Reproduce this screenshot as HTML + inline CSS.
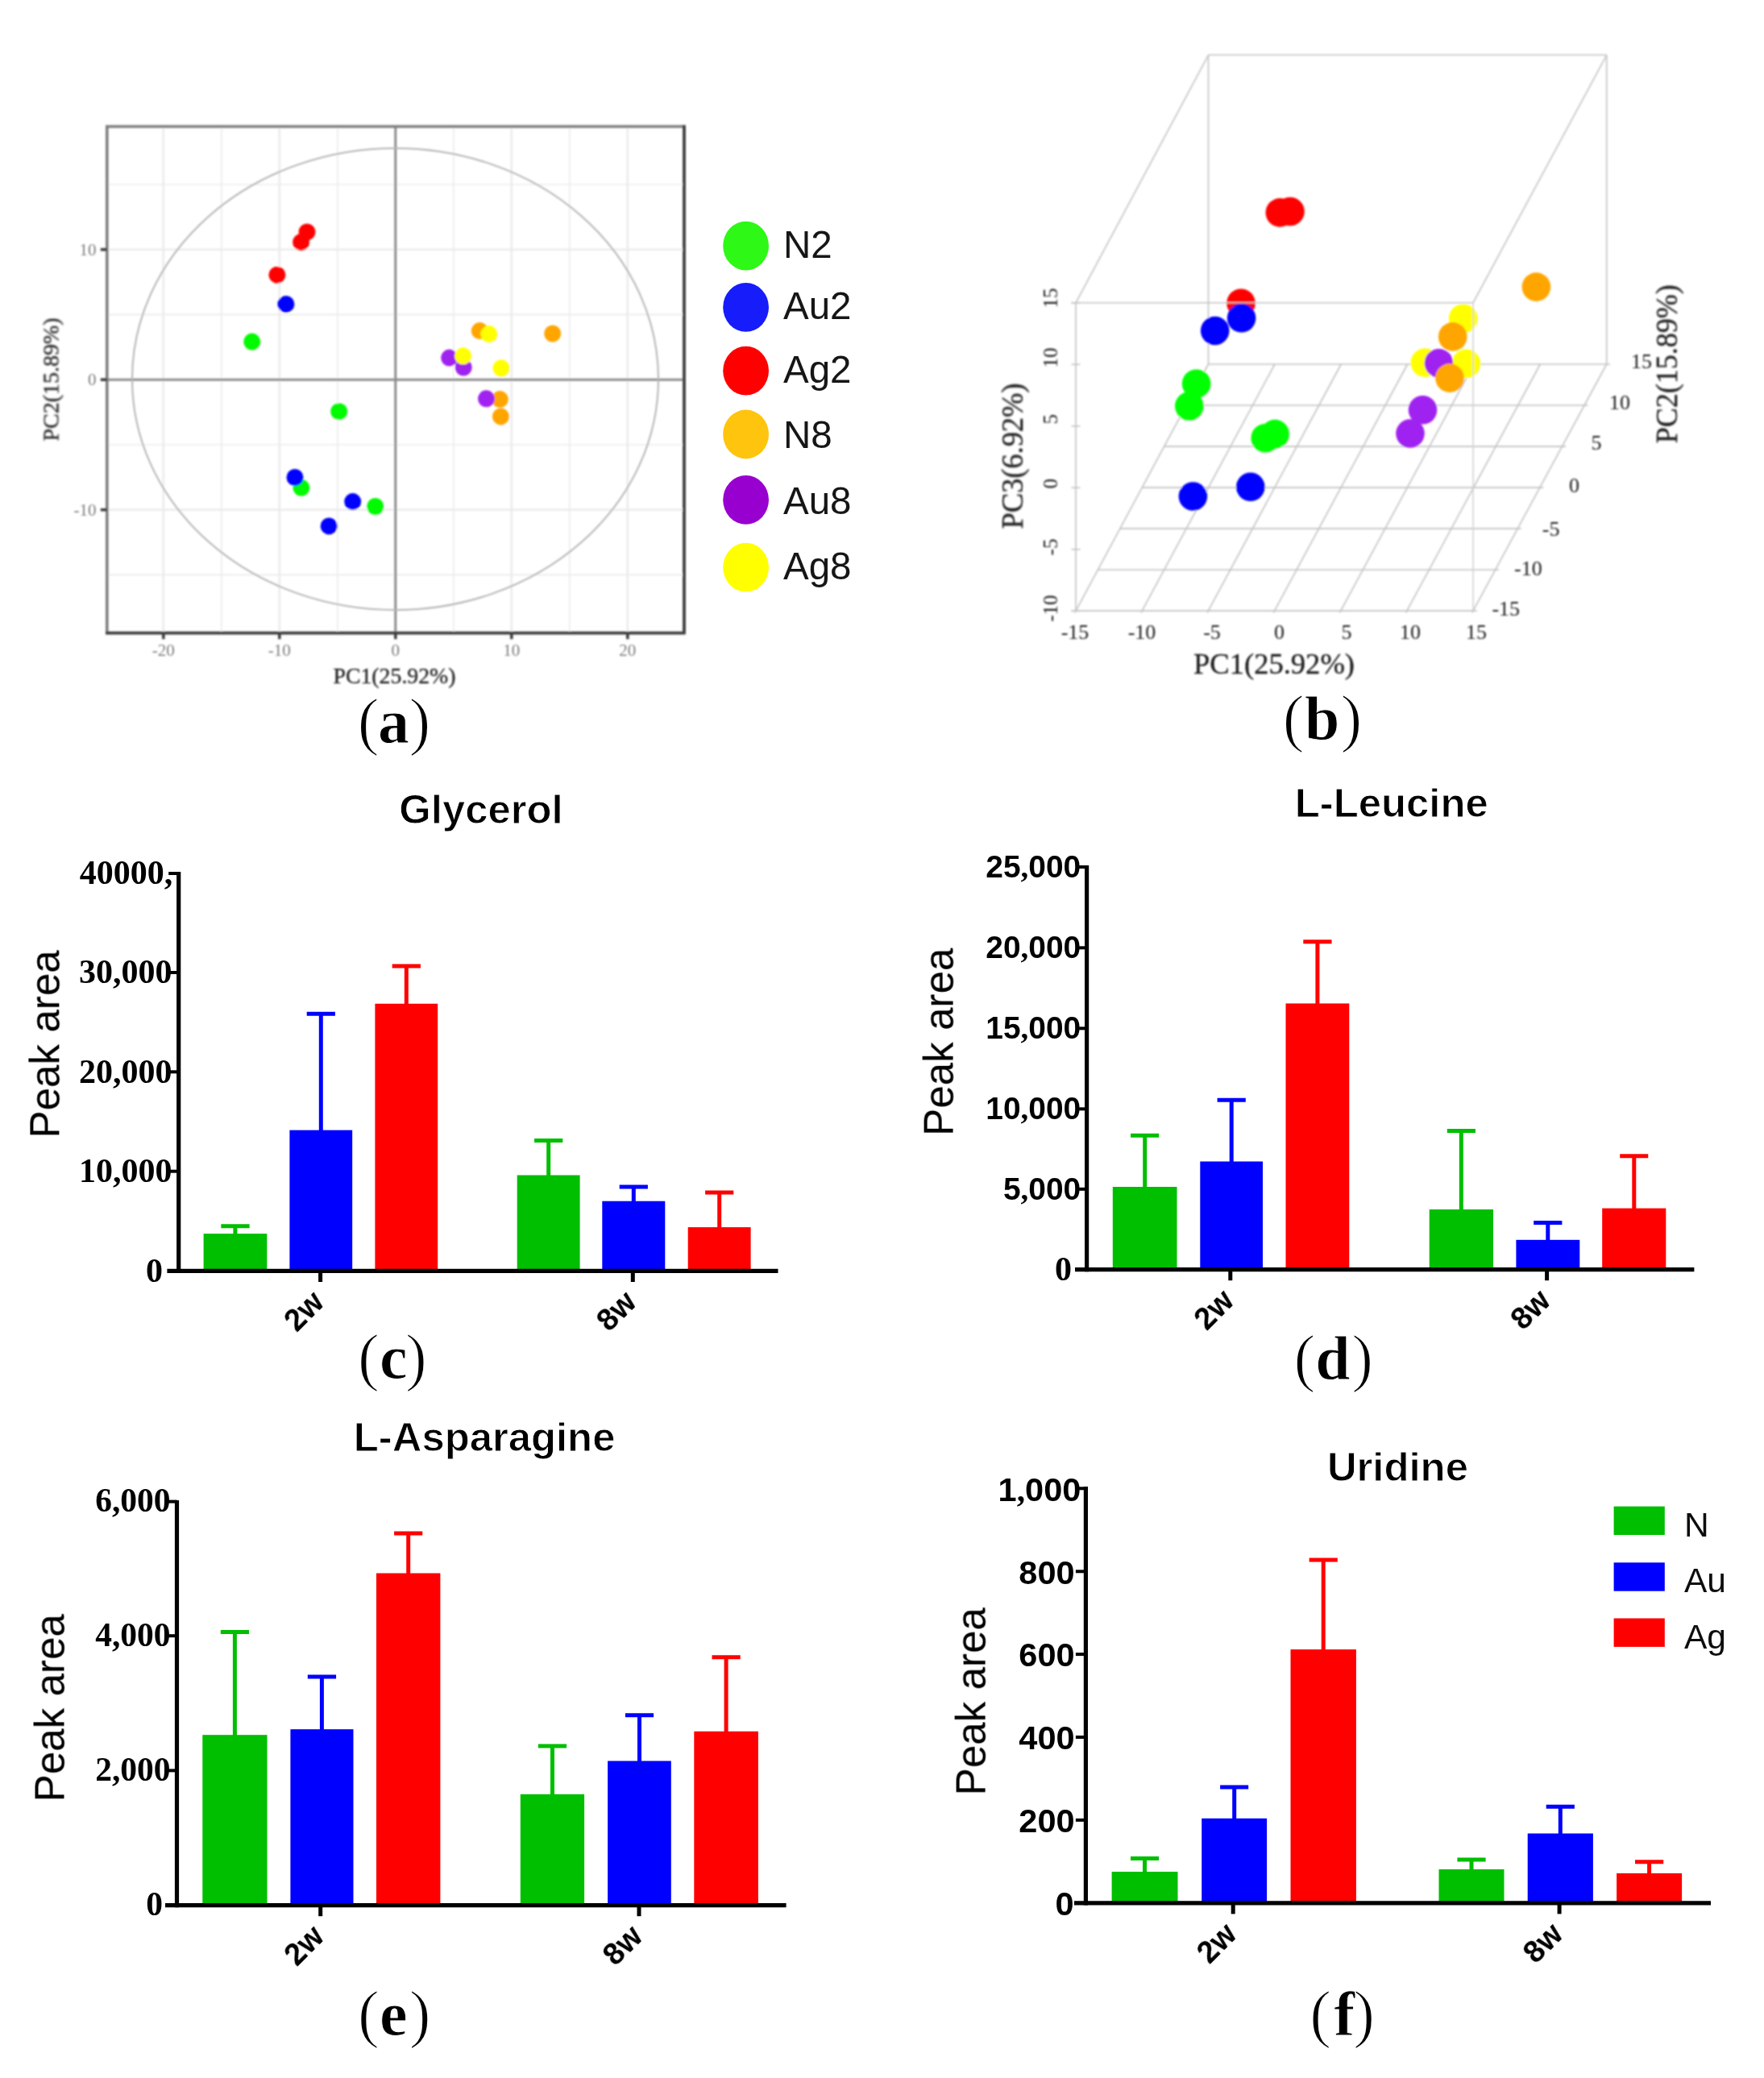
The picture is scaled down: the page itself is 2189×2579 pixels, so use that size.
<!DOCTYPE html>
<html><head><meta charset="utf-8"><title>Figure</title>
<style>
html,body{margin:0;padding:0;background:#fff}
svg{display:block}
.se{font-family:"Liberation Serif", serif}
.sa{font-family:"Liberation Sans", sans-serif}
</style></head><body>
<svg width="2189" height="2579" viewBox="0 0 2189 2579">
<defs>
<filter id="b1" x="-5%" y="-5%" width="110%" height="110%"><feGaussianBlur stdDeviation="0.9"/></filter>
<filter id="b2" x="-5%" y="-5%" width="110%" height="110%"><feGaussianBlur stdDeviation="0.5"/></filter>
</defs>
<rect width="2189" height="2579" fill="#fff"/>

<g id="pa" filter="url(#b1)">
<line x1="202.8" y1="157" x2="202.8" y2="785.7" stroke="#ebebeb" stroke-width="2.6"/>
<line x1="274.8" y1="157" x2="274.8" y2="785.7" stroke="#ebebeb" stroke-width="1.6"/>
<line x1="346.8" y1="157" x2="346.8" y2="785.7" stroke="#ebebeb" stroke-width="2.6"/>
<line x1="418.8" y1="157" x2="418.8" y2="785.7" stroke="#ebebeb" stroke-width="1.6"/>
<line x1="562.8" y1="157" x2="562.8" y2="785.7" stroke="#ebebeb" stroke-width="1.6"/>
<line x1="634.8" y1="157" x2="634.8" y2="785.7" stroke="#ebebeb" stroke-width="2.6"/>
<line x1="706.8" y1="157" x2="706.8" y2="785.7" stroke="#ebebeb" stroke-width="1.6"/>
<line x1="778.8" y1="157" x2="778.8" y2="785.7" stroke="#ebebeb" stroke-width="2.6"/>
<line x1="132.8" y1="713.4" x2="849" y2="713.4" stroke="#ebebeb" stroke-width="1.6"/>
<line x1="132.8" y1="632.7" x2="849" y2="632.7" stroke="#ebebeb" stroke-width="2.6"/>
<line x1="132.8" y1="552.0" x2="849" y2="552.0" stroke="#ebebeb" stroke-width="1.6"/>
<line x1="132.8" y1="390.4" x2="849" y2="390.4" stroke="#ebebeb" stroke-width="1.6"/>
<line x1="132.8" y1="309.7" x2="849" y2="309.7" stroke="#ebebeb" stroke-width="2.6"/>
<line x1="132.8" y1="229.0" x2="849" y2="229.0" stroke="#ebebeb" stroke-width="1.6"/>
<line x1="490.8" y1="157" x2="490.8" y2="785.7" stroke="#8c8c8c" stroke-width="3"/>
<line x1="132.8" y1="471.2" x2="849" y2="471.2" stroke="#8c8c8c" stroke-width="3"/>
<ellipse cx="490.5" cy="470.5" rx="326.5" ry="286.5" fill="none" stroke="#b4b4b4" stroke-width="2"/>
<path d="M132.8 785.7 V157 H849" fill="none" stroke="#7e7e7e" stroke-width="3.6"/>
<path d="M131.0 785.7 H850.8 M849 785.7 V155.2" fill="none" stroke="#3c3c3c" stroke-width="3.8"/>
<line x1="202.8" y1="785.7" x2="202.8" y2="793.2" stroke="#3c3c3c" stroke-width="3.6"/>
<text class="se" x="202.8" y="814" font-size="21" fill="#7a7a7a" text-anchor="middle">-20</text>
<line x1="346.8" y1="785.7" x2="346.8" y2="793.2" stroke="#3c3c3c" stroke-width="3.6"/>
<text class="se" x="346.8" y="814" font-size="21" fill="#7a7a7a" text-anchor="middle">-10</text>
<line x1="490.8" y1="785.7" x2="490.8" y2="793.2" stroke="#3c3c3c" stroke-width="3.6"/>
<text class="se" x="490.8" y="814" font-size="21" fill="#7a7a7a" text-anchor="middle">0</text>
<line x1="634.8" y1="785.7" x2="634.8" y2="793.2" stroke="#3c3c3c" stroke-width="3.6"/>
<text class="se" x="634.8" y="814" font-size="21" fill="#7a7a7a" text-anchor="middle">10</text>
<line x1="778.8" y1="785.7" x2="778.8" y2="793.2" stroke="#3c3c3c" stroke-width="3.6"/>
<text class="se" x="778.8" y="814" font-size="21" fill="#7a7a7a" text-anchor="middle">20</text>
<line x1="124.80000000000001" y1="632.7" x2="132.8" y2="632.7" stroke="#3c3c3c" stroke-width="3.6"/>
<text class="se" x="119.5" y="639.7" font-size="21" fill="#7a7a7a" text-anchor="end">-10</text>
<line x1="124.80000000000001" y1="471.2" x2="132.8" y2="471.2" stroke="#3c3c3c" stroke-width="3.6"/>
<text class="se" x="119.5" y="478.2" font-size="21" fill="#7a7a7a" text-anchor="end">0</text>
<line x1="124.80000000000001" y1="309.7" x2="132.8" y2="309.7" stroke="#3c3c3c" stroke-width="3.6"/>
<text class="se" x="119.5" y="316.7" font-size="21" fill="#7a7a7a" text-anchor="end">10</text>
<text class="se" x="413.5" y="848" font-size="28" fill="#262626" stroke="#262626" stroke-width="0.35" textLength="152" lengthAdjust="spacingAndGlyphs">PC1(25.92%)</text>
<text class="se" transform="translate(72.5 547.5) rotate(-90)" font-size="28" fill="#262626" stroke="#262626" stroke-width="0.35" textLength="153" lengthAdjust="spacingAndGlyphs">PC2(15.89%)</text>
<circle cx="312.7" cy="424.1" r="10.5" fill="#00fa00"/>
<circle cx="420.7" cy="510.7" r="10.5" fill="#00fa00"/>
<circle cx="373.9" cy="605.3" r="10.5" fill="#00fa00"/>
<circle cx="465.7" cy="628.5" r="10.5" fill="#00fa00"/>
<circle cx="354.9" cy="377.4" r="10.5" fill="#0000ff"/>
<circle cx="366" cy="592.5" r="10.5" fill="#0000ff"/>
<circle cx="437.7" cy="622.6" r="10.5" fill="#0000ff"/>
<circle cx="408.2" cy="652.9" r="10.5" fill="#0000ff"/>
<circle cx="381" cy="287.9" r="10.5" fill="#ff0000"/>
<circle cx="373.6" cy="300.6" r="10.5" fill="#ff0000"/>
<circle cx="343.9" cy="341.2" r="10.5" fill="#ff0000"/>
<circle cx="595.3" cy="410.6" r="10.5" fill="#ffa500"/>
<circle cx="685.7" cy="414" r="10.5" fill="#ffa500"/>
<circle cx="620.3" cy="495.6" r="10.5" fill="#ffa500"/>
<circle cx="621.4" cy="516.9" r="10.5" fill="#ffa500"/>
<circle cx="557.6" cy="444.1" r="10.5" fill="#a020f0"/>
<circle cx="575.2" cy="456" r="10.5" fill="#a020f0"/>
<circle cx="603.5" cy="494.8" r="10.5" fill="#a020f0"/>
<circle cx="606.7" cy="414.6" r="10.5" fill="#ffff00"/>
<circle cx="574.6" cy="441.8" r="10.5" fill="#ffff00"/>
<circle cx="622" cy="456.8" r="10.5" fill="#ffff00"/>
</g>
<g id="lega" filter="url(#b2)">
<ellipse cx="925.6" cy="305.1" rx="28.4" ry="30.4" fill="#2ef814"/>
<text class="sa" x="972" y="320.3" font-size="47.5" fill="#161616">N2</text>
<ellipse cx="925.6" cy="381.4" rx="28.4" ry="30.4" fill="#141efa"/>
<text class="sa" x="972" y="396.2" font-size="47.5" fill="#161616">Au2</text>
<ellipse cx="925.6" cy="460.2" rx="28.4" ry="30.4" fill="#ff0000"/>
<text class="sa" x="972" y="474.7" font-size="47.5" fill="#161616">Ag2</text>
<ellipse cx="925.6" cy="539" rx="28.4" ry="30.4" fill="#ffc40a"/>
<text class="sa" x="972" y="556" font-size="47.5" fill="#161616">N8</text>
<ellipse cx="925.6" cy="620.4" rx="28.4" ry="30.4" fill="#9800d0"/>
<text class="sa" x="972" y="637.8" font-size="47.5" fill="#161616">Au8</text>
<ellipse cx="925.6" cy="704.2" rx="28.4" ry="30.4" fill="#ffff00"/>
<text class="sa" x="972" y="719.2" font-size="47.5" fill="#161616">Ag8</text>
</g>
<g id="pb" filter="url(#b1)">
<line x1="1335.0" y1="758.2" x2="1832.5" y2="758.2" stroke="#c2c2c2" stroke-width="1.6"/>
<line x1="1333.8" y1="760.4" x2="1499.5" y2="452.0" stroke="#c2c2c2" stroke-width="1.6"/>
<line x1="1362.4" y1="707.2" x2="1860.1" y2="707.2" stroke="#c2c2c2" stroke-width="1.6"/>
<line x1="1416.0" y1="760.4" x2="1581.9" y2="452.0" stroke="#c2c2c2" stroke-width="1.6"/>
<line x1="1389.8" y1="656.1" x2="1887.7" y2="656.1" stroke="#c2c2c2" stroke-width="1.6"/>
<line x1="1498.1" y1="760.4" x2="1664.2" y2="452.0" stroke="#c2c2c2" stroke-width="1.6"/>
<line x1="1417.2" y1="605.1" x2="1915.3" y2="605.1" stroke="#c2c2c2" stroke-width="1.6"/>
<line x1="1580.3" y1="760.4" x2="1746.6" y2="452.0" stroke="#c2c2c2" stroke-width="1.6"/>
<line x1="1444.7" y1="554.1" x2="1943.0" y2="554.1" stroke="#c2c2c2" stroke-width="1.6"/>
<line x1="1662.5" y1="760.4" x2="1829.0" y2="452.0" stroke="#c2c2c2" stroke-width="1.6"/>
<line x1="1472.1" y1="503.0" x2="1970.6" y2="503.0" stroke="#c2c2c2" stroke-width="1.6"/>
<line x1="1744.6" y1="760.4" x2="1911.3" y2="452.0" stroke="#c2c2c2" stroke-width="1.6"/>
<line x1="1499.5" y1="452.0" x2="1998.2" y2="452.0" stroke="#c2c2c2" stroke-width="1.6"/>
<line x1="1826.8" y1="760.4" x2="1993.7" y2="452.0" stroke="#c2c2c2" stroke-width="1.6"/>
<line x1="1499.5" y1="452.0" x2="1499.5" y2="68.3" stroke="#c2c2c2" stroke-width="1.6"/>
<line x1="1993.7" y1="452.0" x2="1993.7" y2="68.3" stroke="#c2c2c2" stroke-width="1.6"/>
<line x1="1499.5" y1="68.3" x2="1993.7" y2="68.3" stroke="#c2c2c2" stroke-width="1.6"/>
<line x1="1335.0" y1="375.8" x2="1499.5" y2="68.3" stroke="#c2c2c2" stroke-width="1.6"/>
<line x1="1828.0" y1="375.8" x2="1993.7" y2="68.3" stroke="#c2c2c2" stroke-width="1.6"/>
<circle cx="1588.3" cy="263.9" r="17.8" fill="#ff0000"/>
<circle cx="1601" cy="262.5" r="17.8" fill="#ff0000"/>
<circle cx="1540" cy="376.2" r="17.8" fill="#ff0000"/>
<circle cx="1906.4" cy="356.1" r="17.8" fill="#ffa500"/>
<circle cx="1815.7" cy="395.2" r="17.8" fill="#ffff00"/>
<circle cx="1540.6" cy="394.8" r="17.8" fill="#0000ff"/>
<circle cx="1507.7" cy="410.5" r="17.8" fill="#0000ff"/>
<circle cx="1802.7" cy="417.9" r="17.8" fill="#ffa500"/>
<circle cx="1768.4" cy="450.1" r="17.8" fill="#ffff00"/>
<circle cx="1819.4" cy="451.3" r="17.8" fill="#ffff00"/>
<circle cx="1785.4" cy="450.7" r="17.8" fill="#a020f0"/>
<circle cx="1799" cy="469.1" r="17.8" fill="#ffa500"/>
<circle cx="1475.8" cy="504" r="17.8" fill="#00ff00"/>
<circle cx="1484.6" cy="476.2" r="17.8" fill="#00ff00"/>
<circle cx="1750" cy="538" r="17.8" fill="#a020f0"/>
<circle cx="1765.5" cy="508.8" r="17.8" fill="#a020f0"/>
<circle cx="1570.2" cy="543.7" r="17.8" fill="#00ff00"/>
<circle cx="1582.1" cy="538.6" r="17.8" fill="#00ff00"/>
<circle cx="1551.8" cy="604.3" r="17.8" fill="#0000ff"/>
<circle cx="1480.4" cy="616" r="17.8" fill="#0000ff"/>
<line x1="1329.0" y1="375.8" x2="1828.0" y2="375.8" stroke="#c2c2c2" stroke-width="1.6"/>
<line x1="1335.0" y1="758.2" x2="1335.0" y2="375.8" stroke="#c2c2c2" stroke-width="1.6"/>
<line x1="1828.0" y1="758.2" x2="1828.0" y2="375.8" stroke="#d2d2d2" stroke-width="1.6"/>
<line x1="1329.0" y1="758.2" x2="1832.5" y2="758.2" stroke="#c2c2c2" stroke-width="1.6"/>
<line x1="1329.5" y1="375.8" x2="1340.5" y2="375.8" stroke="#c2c2c2" stroke-width="1.6"/>
<line x1="1329.5" y1="452.3" x2="1340.5" y2="452.3" stroke="#c2c2c2" stroke-width="1.6"/>
<line x1="1329.5" y1="528.8" x2="1340.5" y2="528.8" stroke="#c2c2c2" stroke-width="1.6"/>
<line x1="1329.5" y1="605.3" x2="1340.5" y2="605.3" stroke="#c2c2c2" stroke-width="1.6"/>
<line x1="1329.5" y1="681.8" x2="1340.5" y2="681.8" stroke="#c2c2c2" stroke-width="1.6"/>
<line x1="1329.5" y1="758.3" x2="1340.5" y2="758.3" stroke="#c2c2c2" stroke-width="1.6"/>
<text class="se" x="1334" y="793" font-size="26" fill="#1c1c1c" text-anchor="middle">-15</text>
<text class="se" x="1417" y="793" font-size="26" fill="#1c1c1c" text-anchor="middle">-10</text>
<text class="se" x="1504" y="793" font-size="26" fill="#1c1c1c" text-anchor="middle">-5</text>
<text class="se" x="1587.5" y="793" font-size="26" fill="#1c1c1c" text-anchor="middle">0</text>
<text class="se" x="1671" y="793" font-size="26" fill="#1c1c1c" text-anchor="middle">5</text>
<text class="se" x="1750" y="793" font-size="26" fill="#1c1c1c" text-anchor="middle">10</text>
<text class="se" x="1832" y="793" font-size="26" fill="#1c1c1c" text-anchor="middle">15</text>
<text class="se" x="2037" y="456.7" font-size="26" fill="#1c1c1c" text-anchor="middle">15</text>
<text class="se" x="2009.9" y="508.1" font-size="26" fill="#1c1c1c" text-anchor="middle">10</text>
<text class="se" x="1981" y="557.9" font-size="26" fill="#1c1c1c" text-anchor="middle">5</text>
<text class="se" x="1953.5" y="611.0" font-size="26" fill="#1c1c1c" text-anchor="middle">0</text>
<text class="se" x="1924.6" y="665.3" font-size="26" fill="#1c1c1c" text-anchor="middle">-5</text>
<text class="se" x="1896.4" y="714.0" font-size="26" fill="#1c1c1c" text-anchor="middle">-10</text>
<text class="se" x="1868.8" y="763.8" font-size="26" fill="#1c1c1c" text-anchor="middle">-15</text>
<text class="se" transform="translate(1311.5 370) rotate(-90)" font-size="25" fill="#1c1c1c" text-anchor="middle">15</text>
<text class="se" transform="translate(1311.5 444) rotate(-90)" font-size="25" fill="#1c1c1c" text-anchor="middle">10</text>
<text class="se" transform="translate(1311.5 520.3) rotate(-90)" font-size="25" fill="#1c1c1c" text-anchor="middle">5</text>
<text class="se" transform="translate(1311.5 600.3) rotate(-90)" font-size="25" fill="#1c1c1c" text-anchor="middle">0</text>
<text class="se" transform="translate(1311.5 679) rotate(-90)" font-size="25" fill="#1c1c1c" text-anchor="middle">-5</text>
<text class="se" transform="translate(1311.5 755.2) rotate(-90)" font-size="25" fill="#1c1c1c" text-anchor="middle">-10</text>
<text class="se" x="1481" y="836" font-size="36" fill="#1e1e1e" stroke="#1e1e1e" stroke-width="0.3" textLength="200" lengthAdjust="spacingAndGlyphs">PC1(25.92%)</text>
<text class="se" transform="translate(1269 656.4) rotate(-90)" font-size="37" fill="#1e1e1e" stroke="#1e1e1e" stroke-width="0.3" textLength="181" lengthAdjust="spacingAndGlyphs">PC3(6.92%)</text>
<text class="se" transform="translate(2081 550.2) rotate(-90)" font-size="37" fill="#1e1e1e" stroke="#1e1e1e" stroke-width="0.3" textLength="197" lengthAdjust="spacingAndGlyphs">PC2(15.89%)</text>
</g>
<g id="labels" filter="url(#b2)" fill="#000">
<text class="se" x="443.8" y="922.2" font-size="80.5" stroke="#fff" stroke-width="1.5">(</text>
<text class="se" x="469.0" y="922.2" font-size="78" font-weight="bold" stroke="#fff" stroke-width="0.9">a</text>
<text class="se" x="507.6" y="922.2" font-size="80.5" stroke="#fff" stroke-width="1.5">)</text>
<text class="se" x="1591.7" y="917.7" font-size="80.5" stroke="#fff" stroke-width="1.5">(</text>
<text class="se" x="1619.0" y="917.7" font-size="78" font-weight="bold" stroke="#fff" stroke-width="0.9">b</text>
<text class="se" x="1663.4" y="917.7" font-size="80.5" stroke="#fff" stroke-width="1.5">)</text>
<text class="se" x="444.0" y="1711.4" font-size="80.5" stroke="#fff" stroke-width="1.5">(</text>
<text class="se" x="470.9" y="1711.4" font-size="78" font-weight="bold" stroke="#fff" stroke-width="0.9">c</text>
<text class="se" x="503.0" y="1711.4" font-size="80.5" stroke="#fff" stroke-width="1.5">)</text>
<text class="se" x="1605.6" y="1712.2" font-size="80.5" stroke="#fff" stroke-width="1.5">(</text>
<text class="se" x="1632.2" y="1712.2" font-size="78" font-weight="bold" stroke="#fff" stroke-width="0.9">d</text>
<text class="se" x="1677.2" y="1712.2" font-size="80.5" stroke="#fff" stroke-width="1.5">)</text>
<text class="se" x="444.0" y="2525.9" font-size="80.5" stroke="#fff" stroke-width="1.5">(</text>
<text class="se" x="470.9" y="2525.9" font-size="78" font-weight="bold" stroke="#fff" stroke-width="0.9">e</text>
<text class="se" x="507.7" y="2525.9" font-size="80.5" stroke="#fff" stroke-width="1.5">)</text>
<text class="se" x="1625.3" y="2525.9" font-size="80.5" stroke="#fff" stroke-width="1.5">(</text>
<text class="se" x="1655.3" y="2525.9" font-size="78" font-weight="bold" stroke="#fff" stroke-width="0.9">f</text>
<text class="se" x="1679.3" y="2525.9" font-size="80.5" stroke="#fff" stroke-width="1.5">)</text>
</g>
<g id="pc" filter="url(#b2)">
<rect x="252.6" y="1531.1" width="78.7" height="46.3" fill="#04be04"/>
<line x1="291.9" y1="1521.8" x2="291.9" y2="1532.1" stroke="#04be04" stroke-width="5"/>
<line x1="274.3" y1="1521.8" x2="309.6" y2="1521.8" stroke="#04be04" stroke-width="5"/>
<rect x="359.4" y="1402.6" width="77.8" height="174.8" fill="#0000ff"/>
<line x1="398.3" y1="1258.2" x2="398.3" y2="1403.6" stroke="#0000ff" stroke-width="5"/>
<line x1="380.7" y1="1258.2" x2="415.9" y2="1258.2" stroke="#0000ff" stroke-width="5"/>
<rect x="465.4" y="1245.7" width="77.8" height="331.7" fill="#ff0000"/>
<line x1="504.3" y1="1199.0" x2="504.3" y2="1246.7" stroke="#ff0000" stroke-width="5"/>
<line x1="486.7" y1="1199.0" x2="521.9" y2="1199.0" stroke="#ff0000" stroke-width="5"/>
<rect x="641.7" y="1458.5" width="77.9" height="118.9" fill="#04be04"/>
<line x1="680.7" y1="1415.4" x2="680.7" y2="1459.5" stroke="#04be04" stroke-width="5"/>
<line x1="663.1" y1="1415.4" x2="698.3" y2="1415.4" stroke="#04be04" stroke-width="5"/>
<rect x="747.3" y="1490.7" width="78.0" height="86.7" fill="#0000ff"/>
<line x1="786.3" y1="1473.0" x2="786.3" y2="1491.7" stroke="#0000ff" stroke-width="5"/>
<line x1="768.7" y1="1473.0" x2="803.9" y2="1473.0" stroke="#0000ff" stroke-width="5"/>
<rect x="853.7" y="1523.1" width="77.9" height="54.3" fill="#ff0000"/>
<line x1="892.7" y1="1480.0" x2="892.7" y2="1524.1" stroke="#ff0000" stroke-width="5"/>
<line x1="875.1" y1="1480.0" x2="910.3" y2="1480.0" stroke="#ff0000" stroke-width="5"/>
<line x1="221.7" y1="1082.0" x2="221.7" y2="1580.0" stroke="#000" stroke-width="5.2"/>
<line x1="207.4" y1="1577.4" x2="965.5" y2="1577.4" stroke="#000" stroke-width="5.2"/>
<line x1="209.2" y1="1084.0" x2="221.7" y2="1084.0" stroke="#000" stroke-width="4"/>
<text class="se" x="214.3" y="1097.3" font-size="42" font-weight="bold" text-anchor="end">40000<tspan class="se" font-weight="bold">,</tspan></text>
<line x1="209.2" y1="1207.0" x2="221.7" y2="1207.0" stroke="#000" stroke-width="4"/>
<text class="se" x="213.4" y="1220.3" font-size="42" font-weight="bold" text-anchor="end">30<tspan class="se" font-weight="bold">,</tspan>000</text>
<line x1="209.2" y1="1330.3" x2="221.7" y2="1330.3" stroke="#000" stroke-width="4"/>
<text class="se" x="213.4" y="1343.6" font-size="42" font-weight="bold" text-anchor="end">20<tspan class="se" font-weight="bold">,</tspan>000</text>
<line x1="209.2" y1="1453.7" x2="221.7" y2="1453.7" stroke="#000" stroke-width="4"/>
<text class="se" x="213.4" y="1467.0" font-size="42" font-weight="bold" text-anchor="end">10<tspan class="se" font-weight="bold">,</tspan>000</text>
<text class="se" x="201.9" y="1590.7" font-size="42" font-weight="bold" text-anchor="end">0</text>
<line x1="397.6" y1="1577.4" x2="397.6" y2="1591.0" stroke="#000" stroke-width="5"/>
<text class="sa" transform="translate(404.1 1618.4) rotate(-45)" font-size="38" font-weight="bold" text-anchor="end">2w</text>
<line x1="785.3" y1="1577.4" x2="785.3" y2="1591.0" stroke="#000" stroke-width="5"/>
<text class="sa" transform="translate(791.8 1618.4) rotate(-45)" font-size="38" font-weight="bold" text-anchor="end">8w</text>
<text class="sa" x="495.3" y="1021.7" font-size="50.8" font-weight="bold" stroke="#fff" stroke-width="0.9">Glycerol</text>
<text class="sa" transform="translate(73.4 1412.5) rotate(-90)" font-size="51.2">Peak area</text>
</g>
<g id="pd" filter="url(#b2)">
<rect x="1380.8" y="1473.0" width="79.7" height="102.6" fill="#04be04"/>
<line x1="1420.7" y1="1409.2" x2="1420.7" y2="1474.0" stroke="#04be04" stroke-width="5"/>
<line x1="1403.1" y1="1409.2" x2="1438.2" y2="1409.2" stroke="#04be04" stroke-width="5"/>
<rect x="1489.3" y="1441.5" width="77.7" height="134.1" fill="#0000ff"/>
<line x1="1528.2" y1="1365.2" x2="1528.2" y2="1442.5" stroke="#0000ff" stroke-width="5"/>
<line x1="1510.6" y1="1365.2" x2="1545.8" y2="1365.2" stroke="#0000ff" stroke-width="5"/>
<rect x="1595.5" y="1245.4" width="78.8" height="330.2" fill="#ff0000"/>
<line x1="1634.9" y1="1168.8" x2="1634.9" y2="1246.4" stroke="#ff0000" stroke-width="5"/>
<line x1="1617.3" y1="1168.8" x2="1652.5" y2="1168.8" stroke="#ff0000" stroke-width="5"/>
<rect x="1773.7" y="1501.0" width="79.3" height="74.6" fill="#04be04"/>
<line x1="1813.3" y1="1403.6" x2="1813.3" y2="1502.0" stroke="#04be04" stroke-width="5"/>
<line x1="1795.8" y1="1403.6" x2="1830.9" y2="1403.6" stroke="#04be04" stroke-width="5"/>
<rect x="1881.4" y="1538.8" width="78.9" height="36.8" fill="#0000ff"/>
<line x1="1920.8" y1="1517.6" x2="1920.8" y2="1539.8" stroke="#0000ff" stroke-width="5"/>
<line x1="1903.2" y1="1517.6" x2="1938.4" y2="1517.6" stroke="#0000ff" stroke-width="5"/>
<rect x="1988.2" y="1499.6" width="79.1" height="76.0" fill="#ff0000"/>
<line x1="2027.8" y1="1434.8" x2="2027.8" y2="1500.6" stroke="#ff0000" stroke-width="5"/>
<line x1="2010.2" y1="1434.8" x2="2045.3" y2="1434.8" stroke="#ff0000" stroke-width="5"/>
<line x1="1348.6" y1="1074.0" x2="1348.6" y2="1578.2" stroke="#000" stroke-width="5.2"/>
<line x1="1334" y1="1575.6" x2="2102.4" y2="1575.6" stroke="#000" stroke-width="5.2"/>
<line x1="1336.1" y1="1076.0" x2="1348.6" y2="1076.0" stroke="#000" stroke-width="4"/>
<text class="sa" x="1341.2" y="1088.9" font-size="38.9" font-weight="bold" text-anchor="end">25<tspan class="se" font-weight="bold">,</tspan>000</text>
<line x1="1336.1" y1="1176.3" x2="1348.6" y2="1176.3" stroke="#000" stroke-width="4"/>
<text class="sa" x="1341.2" y="1189.2" font-size="38.9" font-weight="bold" text-anchor="end">20<tspan class="se" font-weight="bold">,</tspan>000</text>
<line x1="1336.1" y1="1276.3" x2="1348.6" y2="1276.3" stroke="#000" stroke-width="4"/>
<text class="sa" x="1341.2" y="1289.2" font-size="38.9" font-weight="bold" text-anchor="end">15<tspan class="se" font-weight="bold">,</tspan>000</text>
<line x1="1336.1" y1="1376.3" x2="1348.6" y2="1376.3" stroke="#000" stroke-width="4"/>
<text class="sa" x="1341.2" y="1389.2" font-size="38.9" font-weight="bold" text-anchor="end">10<tspan class="se" font-weight="bold">,</tspan>000</text>
<line x1="1336.1" y1="1475.8" x2="1348.6" y2="1475.8" stroke="#000" stroke-width="4"/>
<text class="sa" x="1341.2" y="1488.7" font-size="38.9" font-weight="bold" text-anchor="end">5<tspan class="se" font-weight="bold">,</tspan>000</text>
<text class="se" x="1329.9" y="1588.9" font-size="42" font-weight="bold" text-anchor="end">0</text>
<line x1="1526.8" y1="1575.6" x2="1526.8" y2="1589.2" stroke="#000" stroke-width="5"/>
<text class="sa" transform="translate(1533.3 1616.6) rotate(-45)" font-size="38" font-weight="bold" text-anchor="end">2w</text>
<line x1="1919.6" y1="1575.6" x2="1919.6" y2="1589.2" stroke="#000" stroke-width="5"/>
<text class="sa" transform="translate(1926.1 1616.6) rotate(-45)" font-size="38" font-weight="bold" text-anchor="end">8w</text>
<text class="sa" x="1606.8" y="1013.6" font-size="50.8" font-weight="bold" stroke="#fff" stroke-width="0.9">L-Leucine</text>
<text class="sa" transform="translate(1182.6 1409.8) rotate(-90)" font-size="51.2">Peak area</text>
</g>
<g id="pe" filter="url(#b2)">
<rect x="251.3" y="2153.2" width="80.2" height="211.4" fill="#04be04"/>
<line x1="291.4" y1="2025.6" x2="291.4" y2="2154.2" stroke="#04be04" stroke-width="5"/>
<line x1="273.8" y1="2025.6" x2="309.0" y2="2025.6" stroke="#04be04" stroke-width="5"/>
<rect x="360.4" y="2146.2" width="78.1" height="218.4" fill="#0000ff"/>
<line x1="399.4" y1="2081.1" x2="399.4" y2="2147.2" stroke="#0000ff" stroke-width="5"/>
<line x1="381.8" y1="2081.1" x2="417.1" y2="2081.1" stroke="#0000ff" stroke-width="5"/>
<rect x="467.0" y="1952.5" width="79.4" height="412.1" fill="#ff0000"/>
<line x1="506.7" y1="1903.1" x2="506.7" y2="1953.5" stroke="#ff0000" stroke-width="5"/>
<line x1="489.1" y1="1903.1" x2="524.3" y2="1903.1" stroke="#ff0000" stroke-width="5"/>
<rect x="645.8" y="2226.8" width="79.3" height="137.8" fill="#04be04"/>
<line x1="685.5" y1="2167.0" x2="685.5" y2="2227.8" stroke="#04be04" stroke-width="5"/>
<line x1="667.9" y1="2167.0" x2="703.1" y2="2167.0" stroke="#04be04" stroke-width="5"/>
<rect x="754.1" y="2185.5" width="78.7" height="179.1" fill="#0000ff"/>
<line x1="793.5" y1="2128.8" x2="793.5" y2="2186.5" stroke="#0000ff" stroke-width="5"/>
<line x1="775.9" y1="2128.8" x2="811.1" y2="2128.8" stroke="#0000ff" stroke-width="5"/>
<rect x="861.3" y="2148.8" width="79.6" height="215.8" fill="#ff0000"/>
<line x1="901.1" y1="2056.7" x2="901.1" y2="2149.8" stroke="#ff0000" stroke-width="5"/>
<line x1="883.5" y1="2056.7" x2="918.7" y2="2056.7" stroke="#ff0000" stroke-width="5"/>
<line x1="219.5" y1="1862.0" x2="219.5" y2="2367.2" stroke="#000" stroke-width="5.2"/>
<line x1="205" y1="2364.6" x2="975.6" y2="2364.6" stroke="#000" stroke-width="5.2"/>
<line x1="207.0" y1="1863.6" x2="219.5" y2="1863.6" stroke="#000" stroke-width="4"/>
<text class="se" x="211.5" y="1876.2" font-size="41.5" font-weight="bold" text-anchor="end">6<tspan class="se" font-weight="bold">,</tspan>000</text>
<line x1="207.0" y1="2030.2" x2="219.5" y2="2030.2" stroke="#000" stroke-width="4"/>
<text class="se" x="211.5" y="2042.8" font-size="41.5" font-weight="bold" text-anchor="end">4<tspan class="se" font-weight="bold">,</tspan>000</text>
<line x1="207.0" y1="2197.4" x2="219.5" y2="2197.4" stroke="#000" stroke-width="4"/>
<text class="se" x="211.5" y="2210.0" font-size="41.5" font-weight="bold" text-anchor="end">2<tspan class="se" font-weight="bold">,</tspan>000</text>
<text class="se" x="201.9" y="2377.2" font-size="41.5" font-weight="bold" text-anchor="end">0</text>
<line x1="397.7" y1="2364.6" x2="397.7" y2="2378.2" stroke="#000" stroke-width="5"/>
<text class="sa" transform="translate(404.2 2405.6) rotate(-45)" font-size="38" font-weight="bold" text-anchor="end">2w</text>
<line x1="793" y1="2364.6" x2="793" y2="2378.2" stroke="#000" stroke-width="5"/>
<text class="sa" transform="translate(799.5 2405.6) rotate(-45)" font-size="38" font-weight="bold" text-anchor="end">8w</text>
<text class="sa" x="438.8" y="1801.2" font-size="50.8" font-weight="bold" stroke="#fff" stroke-width="0.9">L-Asparagine</text>
<text class="sa" transform="translate(79.5 2236.4) rotate(-90)" font-size="51.2">Peak area</text>
</g>
<g id="pf" filter="url(#b2)">
<rect x="1379.6" y="2323.0" width="81.9" height="38.8" fill="#04be04"/>
<line x1="1420.5" y1="2306.5" x2="1420.5" y2="2324.0" stroke="#04be04" stroke-width="5"/>
<line x1="1403.0" y1="2306.5" x2="1438.1" y2="2306.5" stroke="#04be04" stroke-width="5"/>
<rect x="1491.2" y="2256.8" width="80.9" height="105.0" fill="#0000ff"/>
<line x1="1531.7" y1="2218.0" x2="1531.7" y2="2257.8" stroke="#0000ff" stroke-width="5"/>
<line x1="1514.1" y1="2218.0" x2="1549.2" y2="2218.0" stroke="#0000ff" stroke-width="5"/>
<rect x="1601.5" y="2047.1" width="81.4" height="314.7" fill="#ff0000"/>
<line x1="1642.2" y1="1936.0" x2="1642.2" y2="2048.1" stroke="#ff0000" stroke-width="5"/>
<line x1="1624.6" y1="1936.0" x2="1659.8" y2="1936.0" stroke="#ff0000" stroke-width="5"/>
<rect x="1785.5" y="2320.0" width="81.0" height="41.8" fill="#04be04"/>
<line x1="1826.0" y1="2307.9" x2="1826.0" y2="2321.0" stroke="#04be04" stroke-width="5"/>
<line x1="1808.4" y1="2307.9" x2="1843.6" y2="2307.9" stroke="#04be04" stroke-width="5"/>
<rect x="1895.7" y="2275.5" width="81.2" height="86.3" fill="#0000ff"/>
<line x1="1936.3" y1="2242.2" x2="1936.3" y2="2276.5" stroke="#0000ff" stroke-width="5"/>
<line x1="1918.7" y1="2242.2" x2="1953.9" y2="2242.2" stroke="#0000ff" stroke-width="5"/>
<rect x="2006.1" y="2324.9" width="81.0" height="36.9" fill="#ff0000"/>
<line x1="2046.6" y1="2310.8" x2="2046.6" y2="2325.9" stroke="#ff0000" stroke-width="5"/>
<line x1="2029.0" y1="2310.8" x2="2064.2" y2="2310.8" stroke="#ff0000" stroke-width="5"/>
<line x1="1347.4" y1="1845.0" x2="1347.4" y2="2364.4" stroke="#000" stroke-width="5.2"/>
<line x1="1333" y1="2361.8" x2="2123" y2="2361.8" stroke="#000" stroke-width="5.2"/>
<line x1="1334.9" y1="1847.3" x2="1347.4" y2="1847.3" stroke="#000" stroke-width="4"/>
<text class="sa" x="1341.3" y="1862.6" font-size="41.5" font-weight="bold" text-anchor="end">1<tspan class="se" font-weight="bold">,</tspan>000</text>
<line x1="1334.9" y1="1950.3" x2="1347.4" y2="1950.3" stroke="#000" stroke-width="4"/>
<text class="sa" x="1333.6" y="1965.6" font-size="41.5" font-weight="bold" text-anchor="end">800</text>
<line x1="1334.9" y1="2053.1" x2="1347.4" y2="2053.1" stroke="#000" stroke-width="4"/>
<text class="sa" x="1333.6" y="2068.4" font-size="41.5" font-weight="bold" text-anchor="end">600</text>
<line x1="1334.9" y1="2156.0" x2="1347.4" y2="2156.0" stroke="#000" stroke-width="4"/>
<text class="sa" x="1333.6" y="2171.3" font-size="41.5" font-weight="bold" text-anchor="end">400</text>
<line x1="1334.9" y1="2258.9" x2="1347.4" y2="2258.9" stroke="#000" stroke-width="4"/>
<text class="sa" x="1333.6" y="2274.2" font-size="41.5" font-weight="bold" text-anchor="end">200</text>
<text class="sa" x="1332.5" y="2377.1" font-size="41.5" font-weight="bold" text-anchor="end">0</text>
<line x1="1530.2" y1="2361.8" x2="1530.2" y2="2375.4" stroke="#000" stroke-width="5"/>
<text class="sa" transform="translate(1536.7 2402.8) rotate(-45)" font-size="38" font-weight="bold" text-anchor="end">2w</text>
<line x1="1935.1" y1="2361.8" x2="1935.1" y2="2375.4" stroke="#000" stroke-width="5"/>
<text class="sa" transform="translate(1941.6 2402.8) rotate(-45)" font-size="38" font-weight="bold" text-anchor="end">8w</text>
<text class="sa" x="1646.9" y="1837.8" font-size="50.8" font-weight="bold" stroke="#fff" stroke-width="0.9">Uridine</text>
<text class="sa" transform="translate(1222.6 2228.4) rotate(-90)" font-size="51.2">Peak area</text>
</g>
<g id="legf" filter="url(#b2)">
<rect x="2002.6" y="1869.6" width="63.2" height="35.4" fill="#04be04"/>
<text class="sa" x="2090" y="1906.5" font-size="42.5" fill="#111">N</text>
<rect x="2002.6" y="1939.3" width="63.2" height="35.4" fill="#0000ff"/>
<text class="sa" x="2090" y="1976.3" font-size="42.5" fill="#111">Au</text>
<rect x="2002.6" y="2008.5" width="63.2" height="35.4" fill="#ff0000"/>
<text class="sa" x="2090" y="2046" font-size="42.5" fill="#111">Ag</text>
</g>
</svg></body></html>
